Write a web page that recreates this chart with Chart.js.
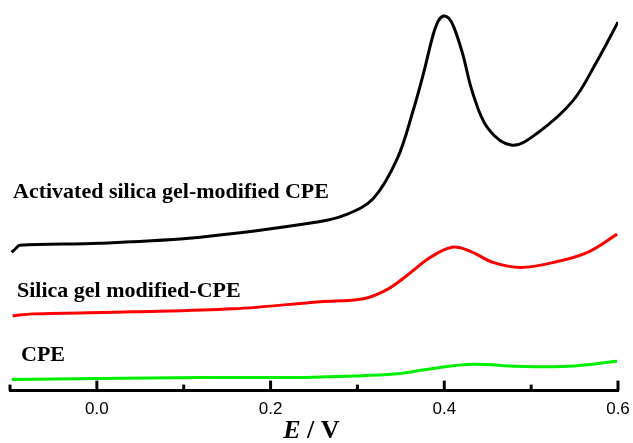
<!DOCTYPE html>
<html>
<head>
<meta charset="utf-8">
<script src="https://cdn.jsdelivr.net/npm/chart.js@4/dist/chart.umd.min.js"></script>
<style>
  html, body { margin: 0; padding: 0; background: #fff; }
  #wrap { width: 633px; height: 443px; }
</style>
</head>
<body>
<div id="wrap"><canvas id="cv"></canvas></div>
<script>
// potential (V) and current (arbitrary units)
var blackE = [-0.098, -0.093, -0.089, 0.003, 0.119, 0.254, 0.286, 0.318, 0.346, 0.364, 0.376, 0.387, 0.393, 0.399, 0.405, 0.411, 0.421, 0.433, 0.450, 0.478, 0.507, 0.548, 0.575, 0.600];
var blackI = [137, 141, 144, 146, 152, 167, 174, 190, 230, 277, 314, 352, 366, 371, 369, 360, 334, 294, 260, 243, 255, 287, 325, 365];

var redE = [-0.097, -0.074, 0.041, 0.157, 0.257, 0.307, 0.334, 0.357, 0.384, 0.409, 0.430, 0.456, 0.488, 0.526, 0.565, 0.599];
var redI = [74, 76, 78, 81, 88, 91, 100, 114, 132, 142, 138, 127, 122, 127, 137, 155];

var greenE = [-0.098, 0.0, 0.119, 0.234, 0.311, 0.349, 0.387, 0.433, 0.484, 0.542, 0.599];
var greenI = [11, 12, 13, 13, 15, 17, 22, 26, 24, 24, 29];

var curveNames = ["Activated silica gel-modified CPE", "Silica gel modified-CPE", "CPE"];
var tickValues = [-0.1, 0.0, 0.1, 0.2, 0.3, 0.4, 0.5, 0.6];

function pts(xs, ys) {
  return xs.map(function (x, i) { return { x: x, y: ys[i] }; });
}

function serie(label, xs, ys, color) {
  return {
    label: label,
    data: pts(xs, ys),
    borderColor: color,
    borderWidth: 3,
    pointRadius: 0,
    showLine: true,
    tension: 0.35,
    fill: false
  };
}

// inward ticks, curve labels and axis title
var decor = {
  id: 'decor',
  afterDraw: function (chart) {
    var ctx = chart.ctx;
    var xs = chart.scales.x;
    var y0 = chart.chartArea.bottom;
    ctx.save();
    ctx.strokeStyle = '#000';
    ctx.lineWidth = 3;
    tickValues.forEach(function (v) {
      var px = xs.getPixelForValue(v);
      var major = Math.abs(Math.round(v * 10) % 2) === 0;
      ctx.beginPath();
      ctx.moveTo(px, y0);
      ctx.lineTo(px, y0 - (major ? 10 : 6));
      ctx.stroke();
    });

    ctx.fillStyle = '#000';
    ctx.textBaseline = 'alphabetic';
    ctx.textAlign = 'left';
    ctx.font = 'bold 22px "Liberation Serif"';
    ctx.fillText(curveNames[0], 13, 198);
    ctx.fillText(curveNames[1], 17, 297);
    ctx.fillText(curveNames[2], 21, 361);

    // axis title: E / V
    var e = 'E', rest = ' / V';
    ctx.font = 'bold 26px "Liberation Serif"';
    var wRest = ctx.measureText(rest).width;
    ctx.font = 'bold italic 26px "Liberation Serif"';
    var wE = ctx.measureText(e).width;
    var cx = xs.getPixelForValue(0.247);
    var sx = cx - (wE + wRest) / 2;
    ctx.fillText(e, sx, 438);
    ctx.font = 'bold 26px "Liberation Serif"';
    ctx.fillText(rest, sx + wE, 438);
    ctx.restore();
  }
};

new Chart(document.getElementById('cv'), {
  type: 'scatter',
  data: {
    datasets: [
      serie(curveNames[0], blackE, blackI, '#000000'),
      serie(curveNames[1], redE, redI, '#ff0000'),
      serie(curveNames[2], greenE, greenI, '#00ee00')
    ]
  },
  options: {
    responsive: true,
    maintainAspectRatio: false,
    animation: false,
    layout: { padding: { top: 10, left: 10, right: 15, bottom: 14 } },
    plugins: { legend: { display: false }, tooltip: { enabled: false } },
    scales: {
      x: {
        type: 'linear',
        min: -0.1,
        max: 0.6,
        afterFit: function (scale) { scale.paddingRight = 0; scale.paddingLeft = 0; },
        grid: { display: false, drawTicks: false },
        border: { display: true, color: '#000', width: 3 },
        ticks: {
          stepSize: 0.1,
          padding: 9,
          color: '#000',
          font: { family: '"Liberation Sans", Arial', size: 17 },
          callback: function (v) {
            var r = Math.round(v * 10);
            if (r < 0 || r % 2 !== 0) return '';
            return (r / 10).toFixed(1);
          }
        }
      },
      y: {
        display: false,
        min: 0,
        max: 377
      }
    }
  },
  plugins: [decor]
});
</script>
</body>
</html>
